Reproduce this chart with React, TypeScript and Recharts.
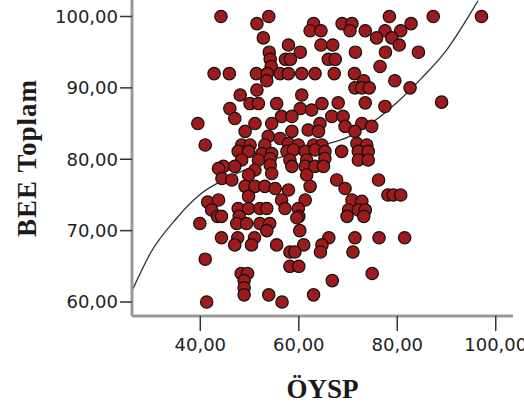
import React from 'react';
import { ComposedChart, Scatter, Line, XAxis, YAxis } from 'recharts';

// ÖYSP (x) values
const oysp = [
  44.2, 53.9, 78.4, 87.3, 97.1,
  51.5, 63.0, 68.8, 70.8, 82.8,
  62.3, 64.5, 70.4, 73.5, 77.5, 80.7,
  52.8, 75.8, 78.9,
  57.9, 64.5, 66.9, 80.4,
  54.0, 60.3, 71.5, 77.6, 84.3,
  54.2, 57.3, 58.3, 66.0, 67.4,
  54.4, 76.5,
  42.8, 45.9, 51.4, 53.6, 56.2, 57.9, 60.6, 63.3, 67.2, 71.3,
  53.5, 73.2, 79.5,
  71.4, 72.8, 74.3, 82.6,
  48.1, 60.6, 51.5,
  73.5, 50.1, 51.8, 55.5, 64.7, 68.0, 89.0, 77.5,
  46.0, 60.3, 62.6,
  47.0, 56.5, 58.6, 66.7, 69.0,
  51.1, 54.5, 64.3, 72.8, 74.8, 69.4, 39.5,
  49.1, 58.6, 61.9, 64.0, 71.4,
  53.8, 56.2,
  41.0, 48.4, 50.1, 53.1, 57.9, 59.9, 63.0, 64.7, 71.8, 73.8,
  68.7, 47.7, 49.8, 52.5, 54.5, 57.6, 58.9, 61.3, 63.3, 65.3, 72.1, 74.1,
  48.4, 51.8, 54.2, 58.2, 61.6, 65.3, 72.1, 74.1,
  44.7, 47.0, 54.2, 58.6, 61.3, 63.3, 65.0, 51.1, 43.7,
  49.8, 54.5, 61.6,
  67.7, 76.2, 44.4, 46.4,
  69.4, 49.1, 51.1, 53.1, 55.2, 57.9, 62.3,
  78.1, 79.2, 80.7, 49.8,
  41.5, 43.7, 56.5, 61.3, 70.8, 72.8,
  47.7, 49.8, 52.1, 53.5, 57.2, 59.9, 70.1, 72.1, 73.5, 42.3,
  43.5, 44.3, 47.9, 60.0, 69.8, 73.2,
  39.9, 47.4, 49.4, 52.1, 54.1, 59.6,
  53.5, 60.2,
  44.3, 47.6, 51.0, 66.1, 71.4, 76.3, 81.5,
  47.0, 50.4, 55.5, 61.0, 64.7,
  58.2, 59.2, 64.4, 71.0,
  41.0,
  58.2, 60.0,
  48.3, 49.6, 74.9,
  48.9, 66.8,
  48.9,
  48.9, 53.9, 63.0,
  41.3, 56.6,
];

// BEE Toplam (y) values, same order
const bee = [
  100, 100, 100, 100, 100,
  99, 99, 99, 99, 99,
  98, 98, 98, 98, 98, 98,
  97, 97, 97,
  96, 96, 96, 96,
  95, 95, 95, 95, 95,
  94, 94, 94, 94, 94,
  93, 93,
  92, 92, 92, 92, 92, 92, 92, 92, 92, 92,
  91, 91, 91,
  90, 90, 90, 90,
  89, 89, 89.7,
  87.9, 87.8, 87.8, 87.8, 87.8, 87.9, 88, 87.4,
  87.1, 87.1, 86.9,
  85.7, 86, 86, 86, 86,
  85, 85, 85, 85, 84.6, 84.6, 85,
  83.9, 83.9, 84.1, 83.9, 83.9,
  83.2, 82.9,
  82, 82, 82, 82, 82.2, 82, 82, 82, 82.2, 82,
  81.1, 81.1, 81.1, 80.8, 80.8, 81.1, 81.3, 81.1, 81.3, 81.1, 81.1, 81.1,
  79.9, 79.9, 80.1, 79.9, 79.9, 80.1, 79.9, 79.9,
  79, 79, 79.2, 79, 79, 79, 79, 78.5, 78.7,
  77.8, 78, 77.8,
  77.1, 77.1, 77.3, 77.1,
  75.9, 76.2, 76.2, 76.2, 75.9, 75.7, 76.2,
  75, 75, 75, 74.8,
  74, 74.3, 74.3, 74.3, 74.3, 74.1,
  73.1, 73.1, 73.1, 73.1, 73.1, 73.1, 72.9, 72.9, 72.9, 72.9,
  72, 72, 72, 72, 72, 72,
  71, 71, 71, 71, 71, 71.8,
  70, 70,
  69, 69, 69, 69, 69, 69, 69,
  68, 68, 68, 68, 68,
  67, 67, 67, 67,
  66,
  65, 65,
  64, 64, 64,
  63, 63,
  62,
  61, 61, 61,
  60, 60,
];

// Fit curve points
const fitX = [26.3, 30, 35, 40, 45, 50, 55, 60, 65, 70, 75, 80, 85, 90, 95, 96.4];
const fitY = [61.8, 67.0, 71.6, 75.1, 77.2, 78.8, 80.0, 81.0, 82.0, 83.1, 85.2, 88.0, 91.4, 95.3, 100.6, 102.2];

const xTicks = [40, 60, 80, 100];
const yTicks = [60, 70, 80, 90, 100];

const points = oysp.map((x, i) => ({ x, y: bee[i] }));
const fit = fitX.map((x, i) => ({ x, y: fitY[i] }));

const fmt = (v: number) => v.toFixed(2).replace('.', ',');

const Dot = (props: any) => (
  <circle cx={props.cx} cy={props.cy} r={6.2} fill="#9E1B1B" stroke="#111" strokeWidth={1.2} />
);

const tickStyle = { fontSize: 18, fontFamily: 'DejaVu Sans', fill: '#222' };

export default function App() {
  return (
    <div style={{ position: 'fixed', left: 0, top: 0, width: 524, height: 408, background: '#fff' }}>
      <ComposedChart width={524} height={408} margin={{ top: 0, right: 11, bottom: 0, left: 0 }}>
        <XAxis
          type="number"
          dataKey="x"
          domain={[26.13, 103.5]}
          allowDataOverflow
          ticks={xTicks}
          tickFormatter={fmt}
          height={92}
          tick={tickStyle}
          tickSize={15}
          tickMargin={7}
          axisLine={{ stroke: '#999', strokeWidth: 3 }}
          tickLine={{ stroke: '#333', strokeWidth: 1.5 }}
          label={{
            value: 'ÖYSP',
            position: 'insideBottom',
            offset: 10,
            fill: '#1a1a1a',
            fontSize: 27,
            fontWeight: 'bold',
            fontFamily: 'Liberation Serif',
          }}
        />
        <YAxis
          type="number"
          dataKey="y"
          domain={[58.04, 102.31]}
          allowDataOverflow
          ticks={yTicks}
          tickFormatter={fmt}
          width={132}
          tick={tickStyle}
          tickSize={12}
          tickMargin={2}
          axisLine={{ stroke: '#999', strokeWidth: 3 }}
          tickLine={{ stroke: '#333', strokeWidth: 1.5 }}
          label={{
            value: 'BEE Toplam',
            angle: -90,
            position: 'insideLeft',
            offset: 26,
            style: { textAnchor: 'middle' },
            fill: '#1a1a1a',
            fontSize: 27,
            fontWeight: 'bold',
            fontFamily: 'Liberation Serif',
            letterSpacing: 1,
          }}
        />
        <Line
          data={fit}
          dataKey="y"
          type="monotone"
          stroke="#333"
          strokeWidth={1.3}
          dot={false}
          activeDot={false}
          isAnimationActive={false}
        />
        <Scatter data={points} dataKey="y" shape={<Dot />} isAnimationActive={false} />
      </ComposedChart>
    </div>
  );
}
